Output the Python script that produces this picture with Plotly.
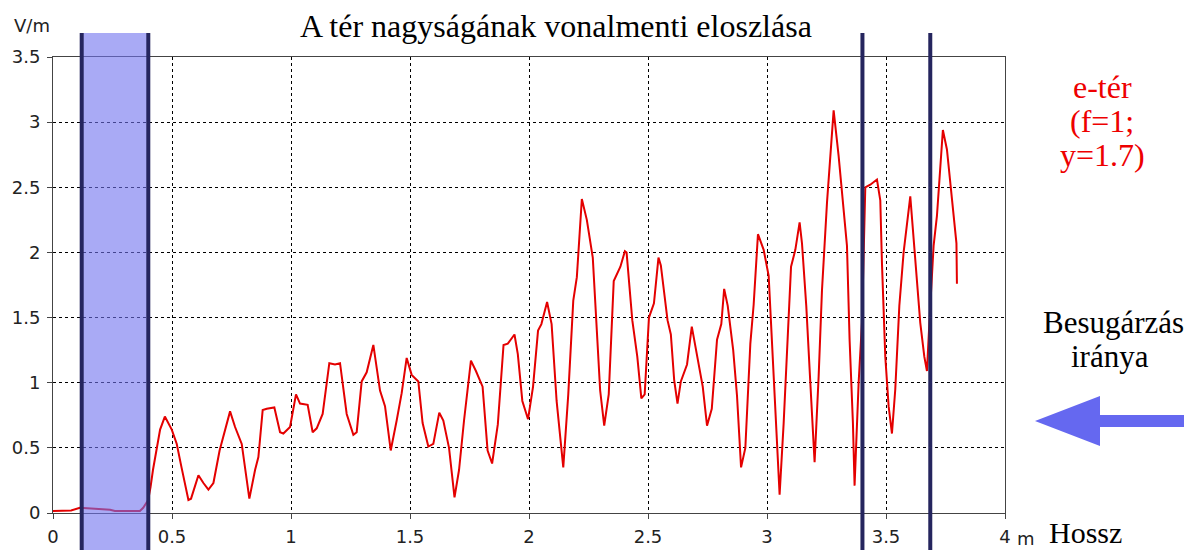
import plotly.graph_objects as go

# ---- data ----
dist_m = [0.0, 0.04, 0.076, 0.113, 0.155, 0.20, 0.24, 0.26, 0.30, 0.365, 0.379, 0.40, 0.41, 0.42,
          0.45, 0.47, 0.499, 0.52, 0.54, 0.569, 0.58, 0.611, 0.632, 0.653, 0.674, 0.70, 0.744, 0.765,
          0.793, 0.825, 0.849, 0.863, 0.881, 0.898, 0.93, 0.954, 0.968, 0.996, 1.021, 1.038, 1.07,
          1.091, 1.108, 1.133, 1.161, 1.185, 1.206, 1.234, 1.262, 1.276, 1.297, 1.318, 1.346, 1.374,
          1.395, 1.419, 1.444, 1.465, 1.486, 1.507, 1.535, 1.553, 1.577, 1.598, 1.623, 1.64, 1.664,
          1.687, 1.706, 1.727, 1.756, 1.777, 1.805, 1.826, 1.845, 1.869, 1.893, 1.911, 1.939, 1.953,
          1.972, 1.996, 2.017, 2.038, 2.052, 2.076, 2.095, 2.116, 2.144, 2.165, 2.186, 2.201, 2.222,
          2.243, 2.268, 2.285, 2.299, 2.316, 2.335, 2.356, 2.384, 2.403, 2.41, 2.434, 2.455, 2.472,
          2.486, 2.504, 2.525, 2.544, 2.554, 2.582, 2.596, 2.61, 2.624, 2.638, 2.664, 2.684, 2.706,
          2.73, 2.748, 2.768, 2.79, 2.808, 2.82, 2.835, 2.858, 2.874, 2.891, 2.909, 2.93, 2.944,
          2.962, 2.986, 3.007, 3.028, 3.042, 3.053, 3.07, 3.087, 3.101, 3.119, 3.137, 3.147, 3.165,
          3.182, 3.2, 3.217, 3.231, 3.252, 3.266, 3.28, 3.301, 3.315, 3.336, 3.347, 3.361, 3.368,
          3.385, 3.399, 3.409, 3.413, 3.434, 3.462, 3.476, 3.483, 3.497, 3.511, 3.525, 3.539, 3.556,
          3.574, 3.602, 3.623, 3.644, 3.661, 3.672, 3.686, 3.70, 3.714, 3.739, 3.756, 3.777, 3.796,
          3.798]
field_vm = [0.015, 0.015, 0.02, 0.04, 0.035, 0.03, 0.025, 0.015, 0.015, 0.015, 0.04, 0.10, 0.20, 0.33,
            0.64, 0.74, 0.64, 0.53, 0.35, 0.10, 0.11, 0.29, 0.23, 0.18, 0.23, 0.48, 0.78, 0.66,
            0.53, 0.11, 0.33, 0.43, 0.79, 0.80, 0.81, 0.62, 0.61, 0.66, 0.91, 0.84, 0.83,
            0.62, 0.65, 0.76, 1.15, 1.14, 1.15, 0.76, 0.60, 0.62, 1.01, 1.08, 1.29, 0.94,
            0.82, 0.48, 0.71, 0.92, 1.19, 1.06, 1.01, 0.69, 0.51, 0.53, 0.77, 0.71, 0.50,
            0.12, 0.33, 0.71, 1.17, 1.09, 0.97, 0.48, 0.38, 0.68, 1.29, 1.30, 1.37, 1.22,
            0.86, 0.72, 0.97, 1.40, 1.45, 1.62, 1.45, 0.86, 0.35, 0.91, 1.63, 1.81, 2.41,
            2.25, 1.96, 1.37, 0.94, 0.67, 0.91, 1.78, 1.89, 2.01, 2.00, 1.48, 1.20, 0.88,
            0.91, 1.50, 1.61, 1.96, 1.90, 1.48, 1.37, 1.02, 0.84, 1.01, 1.14, 1.43, 1.20,
            0.97, 0.67, 0.80, 1.33, 1.45, 1.72, 1.59, 1.25, 0.90, 0.35, 0.50, 1.30, 1.60,
            2.14, 2.02, 1.82, 1.07, 0.56, 0.14, 0.69, 1.33, 1.89, 2.02, 2.23, 2.07, 1.59,
            1.00, 0.39, 1.05, 1.71, 2.38, 2.74, 3.09, 2.74, 2.48, 2.05, 1.33, 0.69, 0.21,
            1.00, 1.46, 2.15, 2.50, 2.52, 2.56, 2.40, 1.92, 1.20, 0.82, 0.61, 0.95, 1.59,
            2.00, 2.43, 1.97, 1.46, 1.20, 1.09, 1.59, 2.05, 2.28, 2.94, 2.79, 2.38, 2.07,
            1.76]

x_tick_vals = [0, 0.5, 1, 1.5, 2, 2.5, 3, 3.5, 4]
x_tick_text = ["0", "0.5", "1", "1.5", "2", "2.5", "3", "3.5", "4"]
y_tick_vals = [0, 0.5, 1, 1.5, 2, 2.5, 3, 3.5]
y_tick_text = ["0", "0.5", "1", "1.5", "2", "2.5", "3", "3.5"]

band_m = [0.1206, 0.4004]        # shaded region
marker_lines_m = [3.401, 3.686]  # vertical dark lines

title_text = "A tér nagyságának vonalmenti eloszlása"
y_unit = "V/m"
x_unit = "m"
x_label = "Hossz"
series_label = ["e-tér", "(f=1;", "y=1.7)"]
direction_label = ["Besugárzás", "iránya"]

# ---- layout geometry (page has an 8px body margin) ----
OFF = 8
W, H = 1192 - OFF, 550 - OFF
L, R, T, B = 45, 187, 49, 37
PW, PH = W - L - R, H - T - B


def px(x):  # screen x (reference pixels) -> paper
    return (x - OFF - L) / PW


def py(y):  # screen y (reference pixels) -> paper
    return (H - B + OFF - y) / PH


fig = go.Figure()
fig.add_trace(go.Scatter(x=dist_m, y=field_vm, mode="lines",
                         line=dict(color="#e40000", width=2), showlegend=False,
                         hoverinfo="x+y"))

navy = "#25255e"
shapes = []
shapes.append(dict(type="rect", xref="x", yref="paper", x0=band_m[0], x1=band_m[1],
                   y0=py(550), y1=py(33), fillcolor="rgba(112,113,238,0.6)",
                   line=dict(width=0), layer="above"))
for xv in band_m + marker_lines_m:
    shapes.append(dict(type="line", xref="x", yref="paper", x0=xv, x1=xv,
                       y0=py(550), y1=py(33), line=dict(color=navy, width=4), layer="above"))

pts = [(1035, 421), (1100, 396), (1100, 415), (1195, 415), (1195, 427), (1100, 427), (1100, 446)]
path = "M " + " L ".join(f"{px(a):.5f},{py(b):.5f}" for a, b in pts) + " Z"
shapes.append(dict(type="path", xref="paper", yref="paper", path=path,
                   fillcolor="#6568f0", line=dict(width=0), layer="above"))

serif = "Liberation Serif"
sans = "DejaVu Sans"
ann = []


def add_text(text, x, y, font, size, color):
    ann.append(dict(text=text, x=px(x), y=py(y), xref="paper", yref="paper",
                    xanchor="center", yanchor="middle", showarrow=False,
                    font=dict(family=font, size=size, color=color)))


add_text(title_text, 556, 26, serif, 32, "black")
add_text(y_unit, 32, 25, sans, 18, "#222")
add_text(x_unit, 1026, 538, sans, 18, "#222")
add_text(x_label, 1085, 532, serif, 30, "black")
for i, t in enumerate(series_label):
    add_text(t, 1102, 87 + 34 * i, serif, 32, "#ee0000")
for t, xx, yy in zip(direction_label, [1113, 1110], [322, 356]):
    add_text(t, xx, yy, serif, 31, "black")

axis_common = dict(showline=True, linecolor="#444", linewidth=1, mirror=True,
                   ticks="outside", ticklen=5, tickcolor="#444", automargin=False,
                   showgrid=True, gridcolor="black", gridwidth=1, griddash="3px,3px",
                   zeroline=False, tickfont=dict(family=sans, size=18, color="#222"))

fig.update_layout(
    width=W, height=H, margin=dict(l=L, r=R, t=T, b=B, autoexpand=False),
    paper_bgcolor="white", plot_bgcolor="white",
    xaxis=dict(range=[0, 4], tickvals=x_tick_vals, ticktext=x_tick_text,
               ticklabelstandoff=2, **axis_common),
    yaxis=dict(range=[0, 3.5], tickvals=y_tick_vals, ticktext=y_tick_text,
               ticklabelstandoff=3, **axis_common),
    shapes=shapes, annotations=ann, showlegend=False,
)

fig.write_html("out.html")
